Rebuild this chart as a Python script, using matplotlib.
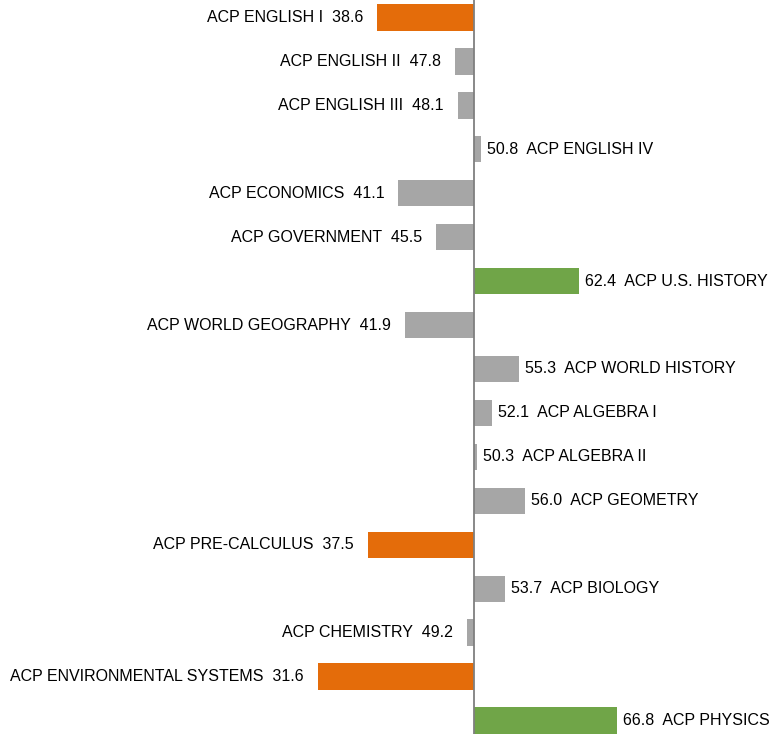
import matplotlib
matplotlib.use("Agg")
import matplotlib.pyplot as plt

courses = ["ACP ENGLISH I", "ACP ENGLISH II", "ACP ENGLISH III", "ACP ENGLISH IV",
           "ACP ECONOMICS", "ACP GOVERNMENT", "ACP U.S. HISTORY", "ACP WORLD GEOGRAPHY",
           "ACP WORLD HISTORY", "ACP ALGEBRA I", "ACP ALGEBRA II", "ACP GEOMETRY",
           "ACP PRE-CALCULUS", "ACP BIOLOGY", "ACP CHEMISTRY", "ACP ENVIRONMENTAL SYSTEMS",
           "ACP PHYSICS"]
scores = [38.6, 47.8, 48.1, 50.8, 41.1, 45.5, 62.4, 41.9, 55.3, 52.1, 50.3, 56.0,
          37.5, 53.7, 49.2, 31.6, 66.8]
baseline = 50.0
low_cut = 40.0
high_cut = 60.0

ORANGE = "#E46C0A"
GRAY = "#A6A6A6"
GREEN = "#70A548"

plt.rcParams["font.family"] = ["Liberation Sans", "DejaVu Sans"]

W, H = 769, 734
fig = plt.figure(figsize=(W / 100, H / 100), dpi=100)
ax = fig.add_axes([0, 0, 1, 1])

pxu = 8.5
axis_px = 474
ax.set_xlim(-axis_px / pxu, (W - axis_px) / pxu)
sp = 43.94
ax.set_ylim(16 + (H - 720.5) / sp, -17.5 / sp)

for i, (c, v) in enumerate(zip(courses, scores)):
    d = v - baseline
    col = ORANGE if v < low_cut else (GREEN if v > high_cut else GRAY)
    ax.barh(i, d, left=0, height=0.6, color=col, linewidth=0)
    if d < 0:
        ax.text(d - 14 / pxu, i, f"{c}  {v:.1f}", ha="right", va="center", fontsize=11.5, color="black")
    else:
        ax.text(d + 6 / pxu, i, f"{v:.1f}  {c}", ha="left", va="center", fontsize=11.5, color="black")

ax.axvline(0, color="#7F7F7F", linewidth=1.3)
ax.axis("off")
fig.savefig("out.png", dpi=100)
